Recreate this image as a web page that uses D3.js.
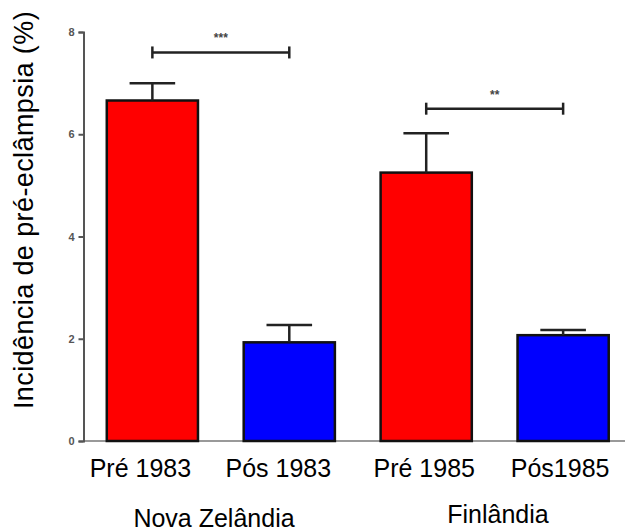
<!DOCTYPE html>
<html>
<head>
<meta charset="utf-8">
<script src="https://cdn.jsdelivr.net/npm/d3@7"></script>
<style>
body { margin: 0; background: #fff; }
text { font-family: "Liberation Sans", Arial, sans-serif; }
</style>
</head>
<body>
<svg id="chart" width="625" height="532"></svg>
<script>
// Data
var categories = ["Pré 1983", "Pós 1983", "Pré 1985", "Pós1985"];
var means = [6.66, 1.93, 5.25, 2.07];
var errors = [0.34, 0.34, 0.77, 0.10];
var barColors = ["#ff0000", "#0000ff", "#ff0000", "#0000ff"];
var groups = ["Nova Zelândia", "Finlândia"];
var yTicks = [0, 2, 4, 6, 8];
var bracketFrom = ["Pré 1983", "Pré 1985"];
var bracketTo = ["Pós 1983", "Pós1985"];
var bracketLevel = [7.6, 6.5];
var bracketLabel = ["***", "**"];

// layout tweaks for labels (pixels)
var labelShift = [-12, -11, -2, -3];
var groupCenter = [214, 498];
var groupBaseline = [527, 523];

var svg = d3.select("#chart");

var x = d3.scaleBand()
    .domain(categories)
    .range([83.5, 632])
    .paddingInner(0.334)
    .paddingOuter(0.17);

var y = d3.scaleLinear()
    .domain([0, 8])
    .range([441, 32]);

// x axis line
svg.append("line")
    .attr("x1", 83.5).attr("x2", 625)
    .attr("y1", y(0)).attr("y2", y(0))
    .attr("stroke", "#777")
    .attr("stroke-width", 1.5);

// y axis
var yAxis = d3.axisLeft(y)
    .tickValues(yTicks)
    .tickSize(5)
    .tickPadding(4);

var gy = svg.append("g")
    .attr("transform", "translate(83.5,0)")
    .call(yAxis);
gy.select(".domain").attr("stroke", "#555").attr("stroke-width", 2);
gy.selectAll(".tick line").attr("stroke", "#555").attr("stroke-width", 2);
gy.selectAll(".tick text")
    .attr("fill", "#555")
    .style("font-size", "11px")
    .style("font-weight", "bold");

// bars
svg.selectAll(".bar")
    .data(categories)
    .enter()
    .append("rect")
    .attr("class", "bar")
    .attr("x", function(d) { return x(d) })
    .attr("width", x.bandwidth())
    .attr("y", function(d, i) { return y(means[i]) })
    .attr("height", function(d, i) { return y(0) - y(means[i]) })
    .attr("fill", function(d, i) { return barColors[i] })
    .attr("stroke", "#111")
    .attr("stroke-width", 2.5);

// error bars (upper only)
var err = svg.selectAll(".err")
    .data(categories)
    .enter()
    .append("g")
    .attr("class", "err")
    .attr("stroke", "#222")
    .attr("stroke-width", 2.5);
err.append("line")
    .attr("x1", function(d) { return x(d) + x.bandwidth() / 2 })
    .attr("x2", function(d) { return x(d) + x.bandwidth() / 2 })
    .attr("y1", function(d, i) { return y(means[i]) })
    .attr("y2", function(d, i) { return y(means[i] + errors[i]) });
err.append("line")
    .attr("x1", function(d) { return x(d) + x.bandwidth() / 4 })
    .attr("x2", function(d) { return x(d) + x.bandwidth() * 3 / 4 })
    .attr("y1", function(d, i) { return y(means[i] + errors[i]) })
    .attr("y2", function(d, i) { return y(means[i] + errors[i]) });

// significance brackets
var br = svg.selectAll(".bracket")
    .data(bracketLevel)
    .enter()
    .append("g")
    .attr("class", "bracket");
br.append("line")
    .attr("x1", function(d, i) { return x(bracketFrom[i]) + x.bandwidth() / 2 })
    .attr("x2", function(d, i) { return x(bracketTo[i]) + x.bandwidth() / 2 })
    .attr("y1", function(d) { return y(d) })
    .attr("y2", function(d) { return y(d) })
    .attr("stroke", "#222").attr("stroke-width", 2.5);
br.append("line")
    .attr("x1", function(d, i) { return x(bracketFrom[i]) + x.bandwidth() / 2 })
    .attr("x2", function(d, i) { return x(bracketFrom[i]) + x.bandwidth() / 2 })
    .attr("y1", function(d) { return y(d) - 6 })
    .attr("y2", function(d) { return y(d) + 6 })
    .attr("stroke", "#222").attr("stroke-width", 2.5);
br.append("line")
    .attr("x1", function(d, i) { return x(bracketTo[i]) + x.bandwidth() / 2 })
    .attr("x2", function(d, i) { return x(bracketTo[i]) + x.bandwidth() / 2 })
    .attr("y1", function(d) { return y(d) - 6 })
    .attr("y2", function(d) { return y(d) + 6 })
    .attr("stroke", "#222").attr("stroke-width", 2.5);
br.append("text")
    .attr("x", function(d, i) { return (x(bracketFrom[i]) + x(bracketTo[i]) + x.bandwidth()) / 2 })
    .attr("y", function(d) { return y(d) - 10 })
    .attr("text-anchor", "middle")
    .attr("fill", "#444")
    .style("font-size", "12px")
    .style("font-weight", "bold")
    .text(function(d, i) { return bracketLabel[i] });

// category labels
svg.selectAll(".cat")
    .data(categories)
    .enter()
    .append("text")
    .attr("class", "cat")
    .attr("x", function(d, i) { return x(d) + x.bandwidth() / 2 + labelShift[i] })
    .attr("y", 477)
    .attr("text-anchor", "middle")
    .attr("fill", "#000")
    .style("font-size", "25px")
    .text(function(d) { return d });

// group labels
svg.selectAll(".grp")
    .data(groups)
    .enter()
    .append("text")
    .attr("class", "grp")
    .attr("x", function(d, i) { return groupCenter[i] })
    .attr("y", function(d, i) { return groupBaseline[i] })
    .attr("text-anchor", "middle")
    .attr("fill", "#000")
    .style("font-size", "25px")
    .text(function(d) { return d });

// y title
svg.append("text")
    .attr("transform", "translate(33,210) rotate(-90)")
    .attr("text-anchor", "middle")
    .attr("fill", "#000")
    .style("font-size", "27px")
    .style("letter-spacing", "0.4px")
    .text("Incidência de pré-eclâmpsia (%)");
</script>
</body>
</html>
